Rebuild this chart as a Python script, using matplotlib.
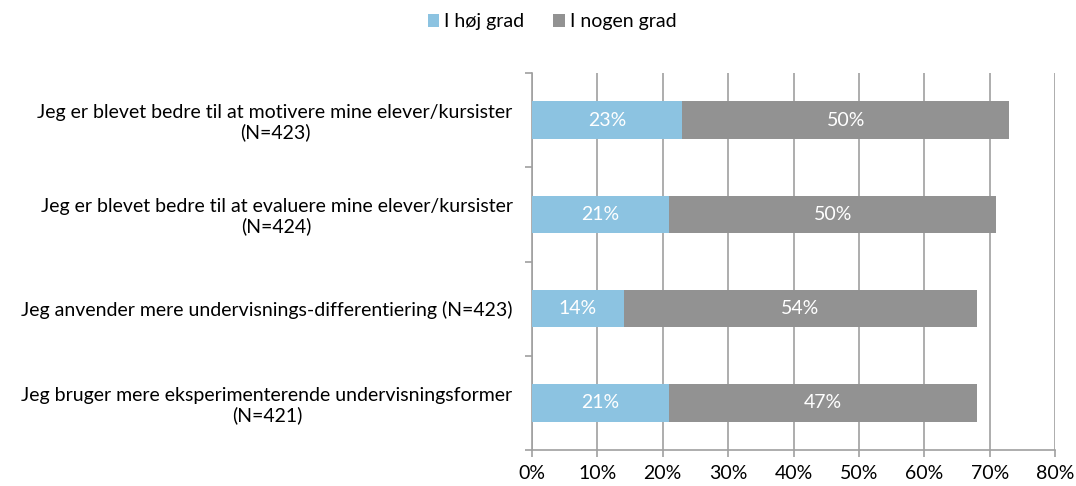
import matplotlib
matplotlib.use("Agg")
import matplotlib.pyplot as plt
import numpy as np
from matplotlib.ticker import FuncFormatter

plt.rcParams['font.family'] = ['Lato', 'DejaVu Sans']

categories = [
    "Jeg er blevet bedre til at motivere mine elever/kursister\n(N=423)",
    "Jeg er blevet bedre til at evaluere mine elever/kursister\n(N=424)",
    "Jeg anvender mere undervisnings-differentiering (N=423)",
    "Jeg bruger mere eksperimenterende undervisningsformer\n(N=421)",
]
hoej = [23, 21, 14, 21]
nogen = [50, 50, 54, 47]
series_names = ["I høj grad", "I nogen grad"]
colors = ["#8CC3E1", "#929292"]
xticks = [0, 10, 20, 30, 40, 50, 60, 70, 80]
FS = 14

fig = plt.figure(figsize=(10.76, 4.86), dpi=100)
ax = fig.add_axes([532/1076, 1-450/486, (1055-532)/1076, (450-73)/486])

y = np.arange(len(categories))
b1 = ax.barh(y, hoej, height=0.4, color=colors[0], label=series_names[0], zorder=3)
b2 = ax.barh(y, nogen, left=hoej, height=0.4, color=colors[1], label=series_names[1], zorder=3)

for vals, lefts in [(hoej, [0]*4), (nogen, hoej)]:
    for yi, v, l in zip(y, vals, lefts):
        ax.text(l + v/2, yi, f"{v}%", ha='center', va='center', color='white', fontsize=FS, zorder=4)

ax.set_xlim(0, 80)
ax.set_ylim(len(categories)-0.5, -0.5)
ax.set_xticks(xticks)
ax.xaxis.set_major_formatter(FuncFormatter(lambda v, p: f"{int(v)}%"))
ax.grid(axis='x', color='#A0A0A0', linewidth=1.2, zorder=0)
ax.set_yticks(y)
ax.set_yticklabels(categories, multialignment='center', fontsize=FS, linespacing=1.15)
ax.set_yticks(np.arange(len(categories)+1) - 0.5, minor=True)
ax.tick_params(axis='y', which='major', length=0, pad=14)
ax.tick_params(axis='y', which='minor', length=5, color='#A0A0A0', width=1.2)
ax.tick_params(axis='x', length=5, color='#A0A0A0', width=1.2, labelsize=FS, pad=6)
for s in ['top', 'right']:
    ax.spines[s].set_visible(False)
for s in ['left', 'bottom']:
    ax.spines[s].set_color('#A0A0A0')
    ax.spines[s].set_linewidth(1.2)

fig.legend(loc='center', bbox_to_anchor=(552/1076, 1-22/486), ncol=2, frameon=False,
           fontsize=FS, handlelength=0.6, handleheight=0.6, handletextpad=0.25, columnspacing=1.5)

fig.savefig("out.png", dpi=100)
